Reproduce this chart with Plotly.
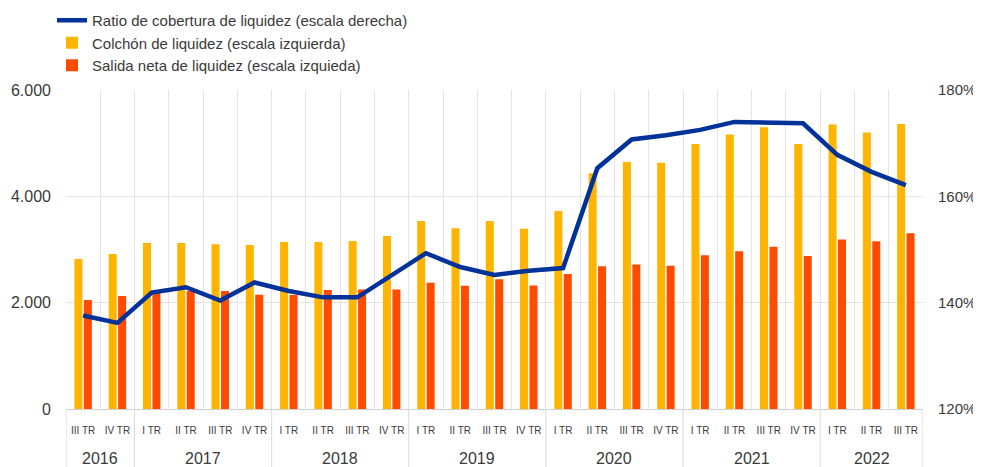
import plotly.graph_objects as go

years = ["2016"] * 2 + ["2017"] * 4 + ["2018"] * 4 + ["2019"] * 4 + ["2020"] * 4 + ["2021"] * 4 + ["2022"] * 3
quarters = ["III TR", "IV TR"] + ["I TR", "II TR", "III TR", "IV TR"] * 5 + ["I TR", "II TR", "III TR"]

colchon = [2820, 2915, 3120, 3120, 3100, 3085, 3140, 3140, 3160, 3255,
           3535, 3400, 3535, 3390, 3725, 4435, 4645, 4630, 4985, 5165,
           5300, 4985, 5350, 5200, 5360]
salida = [2050, 2125, 2180, 2220, 2220, 2150, 2145, 2240, 2250, 2250,
          2375, 2320, 2440, 2325, 2540, 2685, 2720, 2695, 2890, 2965,
          3050, 2880, 3190, 3155, 3305]
ratio = [137.6, 136.2, 141.9, 142.9, 140.4, 143.8, 142.2, 141.0, 141.0, 145.2,
         149.3, 146.7, 145.2, 146.0, 146.5, 165.3, 170.7, 171.5, 172.5, 174.0,
         173.9, 173.75, 167.8, 164.6, 162.1]

left_ticks = [0, 2000, 4000, 6000]
right_ticks = [120, 140, 160, 180]

cats = [f"{q} {y}" for q, y in zip(quarters, years)]
n = len(cats)

BLUE = "#003299"
YELLOW = "#FFB400"
RED = "#FF4B00"
TXT = "#3a3a3a"
GRID = "#e4e4e4"
FONT = "Liberation Sans, Arial, sans-serif"

# the page places the figure 8px in from the top-left corner
W, H = 973, 459
ML, MR, MT, MB = 58, 58, 82, 58
PW, PH = W - ML - MR, H - MT - MB

fig = go.Figure()
fig.add_trace(go.Scatter(x=cats, y=ratio, name="Ratio de cobertura de liquidez (escala derecha)",
                         mode="lines", line=dict(color=BLUE, width=4.5), yaxis="y2"))
fig.add_trace(go.Bar(x=cats, y=colchon, name="Colchón de liquidez (escala izquierda)",
                     marker=dict(color=YELLOW, line=dict(width=0))))
fig.add_trace(go.Bar(x=cats, y=salida, name="Salida neta de liquidez (escala izquieda)",
                     marker=dict(color=RED, line=dict(width=0))))

# year labels and dividers
groups = []
for i, y in enumerate(years):
    if not groups or groups[-1][0] != y:
        groups.append([y, i, i])
    else:
        groups[-1][2] = i

shapes = []
annotations = []
for y, s, e in groups:
    annotations.append(dict(x=(s + e) / 2, y=-49 / PH, xref="x", yref="paper",
                            text=y, showarrow=False, font=dict(size=16, color=TXT, family=FONT),
                            xanchor="center", yanchor="middle"))
    shapes.append(dict(type="line", xref="x", yref="paper", x0=s - 0.5, x1=s - 0.5,
                       y0=0, y1=-MB / PH, line=dict(color="#d9d9d9", width=1)))
shapes.append(dict(type="line", xref="x", yref="paper", x0=n - 0.5, x1=n - 0.5,
                   y0=0, y1=-MB / PH, line=dict(color="#d9d9d9", width=1)))

fig.update_layout(
    width=W, height=H,
    margin=dict(l=ML, r=MR, t=MT, b=MB, autoexpand=False),
    paper_bgcolor="white", plot_bgcolor="white",
    font=dict(family=FONT, color=TXT, size=15),
    separators=",.",
    barmode="group", bargap=0.45, bargroupgap=0.15,
    showlegend=True,
    legend=dict(x=(44 - ML) / PW, y=1 + (MT + 4) / PH,
                xanchor="left", yanchor="top", font=dict(size=15, color=TXT, family=FONT),
                bgcolor="rgba(0,0,0,0)", traceorder="normal", tracegroupgap=0,
                itemwidth=30),
    xaxis=dict(type="category", categoryorder="array", categoryarray=cats,
               range=[-0.5, n - 0.5], tickvals=cats, ticktext=quarters,
               tickfont=dict(size=10, color=TXT, family=FONT), ticks="",
               tickson="boundaries", showgrid=True, gridcolor=GRID, gridwidth=1,
               showline=True, linecolor="#d0d0d0", linewidth=1,
               ticklabelstandoff=12, tickangle=0, fixedrange=True),
    yaxis=dict(range=[0, 6000], tickvals=left_ticks, tickformat=",.0f",
               showgrid=True, gridcolor=GRID, zeroline=False, showline=False,
               tickfont=dict(size=16, color=TXT, family=FONT), ticks="",
               ticklabelstandoff=14),
    yaxis2=dict(range=[120, 180], tickvals=right_ticks,
                ticktext=[f"{v}%" for v in right_ticks], overlaying="y",
                side="right", showgrid=False, zeroline=False, showline=False,
                tickfont=dict(size=15, color=TXT, family=FONT), ticks="",
                ticklabelstandoff=14),
    shapes=shapes, annotations=annotations,
)

fig.write_html("out.html")
